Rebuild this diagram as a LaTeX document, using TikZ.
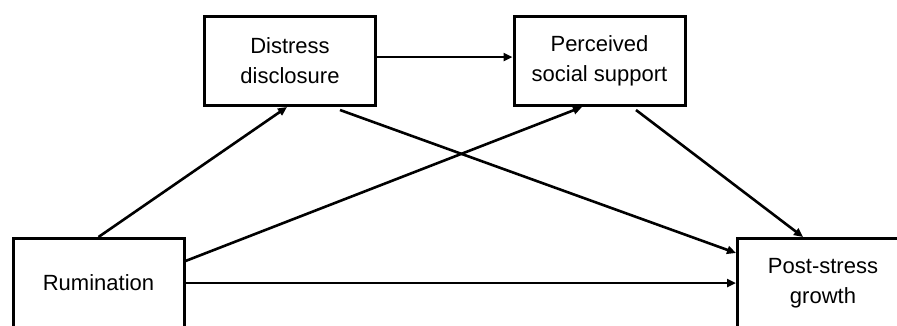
\documentclass[tikz,border=0pt]{standalone}
\usepackage{fontspec}
\setmainfont{Liberation Sans}
\usetikzlibrary{arrows.meta,calc}
\begin{document}
\begin{tikzpicture}[x=1pt,y=-1pt,
 box/.style={draw, line width=3pt, minimum width=171pt, minimum height=89pt, inner sep=0pt, align=center, font=\fontsize{22}{30}\selectfont},
 conn/.style={line width=2.6pt, -{Triangle[length=9pt,width=8pt]}}]
\useasboundingbox (0,0) rectangle (897,325);
\node[box] (dd) at (290,61) {Distress\\disclosure};
\node[box] (pss) at (599.5,61) {Perceived\\social support};
\node[box] (rum) at (98.5,283) {Rumination};
\node[box] (psg) at (823,283) {Post-stress\\growth};
\draw[conn] ($(dd.east)+(0,-4)$) -- ($(pss.west)+(0,-4)$);
\draw[conn] (rum.north) -- ($(dd.south)+(-3,0)$);
\draw[conn] ($(rum.north east)+(0,24)$) -- ($(pss.south)+(-17.5,0)$);
\draw[conn] (rum.east) -- (psg.west);
\draw[conn] ($(dd.south)+(50,3)$) -- ($(psg.north west)+(0,16)$);
\draw[conn] ($(pss.south)+(36.5,3)$) -- ($(psg.north)+(-20,0)$);
\end{tikzpicture}
\end{document}
